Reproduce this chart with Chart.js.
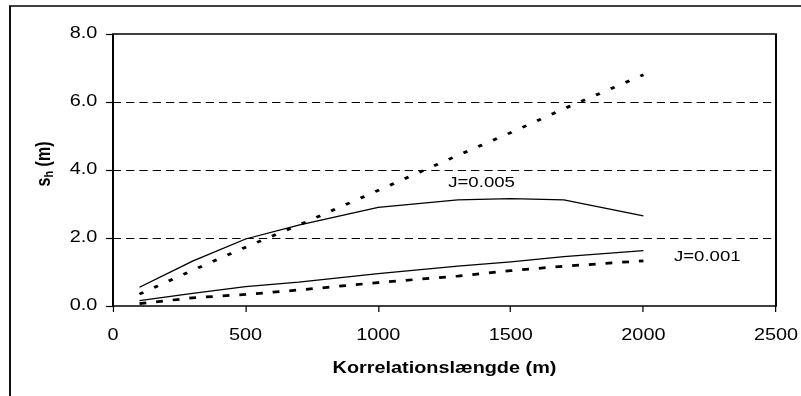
<!DOCTYPE html>
<html>
<head>
<meta charset="utf-8">
<script src="https://cdn.jsdelivr.net/npm/chart.js@4.4.0/dist/chart.umd.js"></script>
<style>
  html, body { margin: 0; padding: 0; background: #fff; }
  canvas { display: block; }
</style>
</head>
<body>
<canvas id="chart" width="801" height="396"></canvas>
<script>
// Korrelationslængde (m) sampled along the x axis
const lengths = [100, 300, 500, 700, 1000, 1300, 1500, 1700, 2000];

// s_h (m) for each curve
const solidJ005 = [0.55, 1.32, 1.97, 2.38, 2.90, 3.12, 3.16, 3.12, 2.65];
const dottedJ005 = [0.35, 1.05, 1.73, 2.38, 3.40, 4.43, 5.10, 5.80, 6.80];
const solidJ001 = [0.16, 0.37, 0.57, 0.70, 0.95, 1.17, 1.30, 1.45, 1.63];
const dottedJ001 = [0.07, 0.24, 0.34, 0.47, 0.69, 0.88, 1.04, 1.17, 1.33];

// Axis ticks
const xTicks = [0, 500, 1000, 1500, 2000, 2500];
const yTicks = [0, 2, 4, 6, 8];

// Curve labels, anchored in data units (left edge, baseline)
const curveLabels = ['J=0.005', 'J=0.001'];
const curveLabelX = [1264, 2115];
const curveLabelY = [3.49, 1.31];

// Everything is laid out narrow and drawn stretched sideways
const STRETCH = 1.24;
const FONT = "'Liberation Sans', Arial, sans-serif";

function toPoints(values) {
    return lengths.map((x, i) => ({ x: x, y: values[i] }));
}

const solidStyle = { borderColor: '#000', borderWidth: 1.2, borderDash: [] };
const dotStyle = { borderColor: '#000', borderWidth: 2.75, borderDash: [3.5, 10], borderCapStyle: 'butt' };
const dashStyle = { borderColor: '#000', borderWidth: 2.75, borderDash: [5.5, 8], borderCapStyle: 'butt' };

const stretchPlugin = {
    id: 'stretch',
    beforeDraw(chart) {
        const ctx = chart.ctx;
        ctx.save();
        ctx.fillStyle = '#fff';
        ctx.fillRect(0, 0, chart.width, chart.height);
        ctx.scale(STRETCH, 1);
    },
    afterDraw(chart) {
        const ctx = chart.ctx;
        const { left, right, top, bottom } = chart.chartArea;
        const xs = chart.scales.x;
        const ys = chart.scales.y;

        // plot frame
        ctx.save();
        ctx.strokeStyle = '#000';
        ctx.lineWidth = 1.6;
        ctx.beginPath();
        ctx.rect(left, top, right - left, bottom - top);
        ctx.stroke();

        // outer frame, runs off the right and bottom edges
        ctx.lineWidth = 1.5;
        ctx.beginPath();
        ctx.moveTo(10 / STRETCH, 500);
        ctx.lineTo(10 / STRETCH, 6);
        ctx.lineTo(900, 6);
        ctx.stroke();

        // curve labels
        ctx.fillStyle = '#000';
        ctx.font = '15px ' + FONT;
        ctx.textAlign = 'left';
        ctx.textBaseline = 'alphabetic';
        curveLabels.forEach((t, i) => {
            ctx.fillText(t, xs.getPixelForValue(curveLabelX[i]), ys.getPixelForValue(curveLabelY[i]));
        });

        // x axis title
        ctx.font = 'bold 16px ' + FONT;
        ctx.textAlign = 'center';
        ctx.fillText('Korrelationslængde (m)', (left + right) / 2, 373);

        // y axis title with subscript h
        ctx.translate(44 / STRETCH, 164);
        ctx.rotate(-Math.PI / 2);
        ctx.textAlign = 'left';
        const big = 'bold 16px ' + FONT;
        const small = 'bold 11px ' + FONT;
        ctx.font = big;
        const wS = ctx.measureText('s').width;
        const wRest = ctx.measureText(' (m)').width;
        ctx.font = small;
        const wH = ctx.measureText('h').width;
        let u = -(wS + wH + wRest) / 2;
        ctx.font = big;
        ctx.fillText('s', u, 5);
        u += wS;
        ctx.font = small;
        ctx.fillText('h', u, 7);
        u += wH;
        ctx.font = big;
        ctx.fillText(' (m)', u, 5);
        ctx.restore();

        ctx.restore();
    }
};

new Chart(document.getElementById('chart'), {
    type: 'line',
    data: {
        datasets: [
            { data: toPoints(solidJ005), ...solidStyle },
            { data: toPoints(dottedJ005), ...dotStyle },
            { data: toPoints(solidJ001), ...solidStyle },
            { data: toPoints(dottedJ001), ...dashStyle }
        ]
    },
    options: {
        responsive: false,
        devicePixelRatio: 1,
        animation: false,
        events: [],
        layout: {
            padding: { left: 0, top: 34, right: 801 - 776 / STRETCH, bottom: 0 }
        },
        elements: {
            point: { radius: 0 },
            line: { tension: 0, fill: false }
        },
        plugins: {
            legend: { display: false },
            tooltip: { enabled: false }
        },
        scales: {
            x: {
                type: 'linear',
                min: 0,
                max: 2500,
                afterFit: s => { s.height = 90; },
                afterBuildTicks: s => { s.ticks = xTicks.map(v => ({ value: v })); },
                ticks: {
                    color: '#000',
                    font: { family: FONT, size: 16 },
                    padding: 14,
                    maxRotation: 0,
                    autoSkip: false,
                    callback: v => String(v)
                },
                grid: {
                    drawOnChartArea: false,
                    tickLength: 6,
                    tickColor: '#000',
                    tickWidth: 1
                },
                border: { display: false }
            },
            y: {
                min: 0,
                max: 8,
                afterFit: s => { s.width = 113 / STRETCH; },
                afterBuildTicks: s => { s.ticks = yTicks.map(v => ({ value: v })); },
                ticks: {
                    color: '#000',
                    font: { family: FONT, size: 16 },
                    padding: 7,
                    callback: v => v.toFixed(1)
                },
                grid: {
                    color: c => (c.tick && c.tick.value > 0 && c.tick.value < 8) ? '#000' : 'rgba(0,0,0,0)',
                    lineWidth: 1,
                    tickLength: 5.6,
                    tickColor: '#000',
                    tickWidth: 1.2,
                    tickBorderDash: []
                },
                border: { display: false, dash: [6.7, 4] }
            }
        }
    },
    plugins: [stretchPlugin]
});
</script>
</body>
</html>
